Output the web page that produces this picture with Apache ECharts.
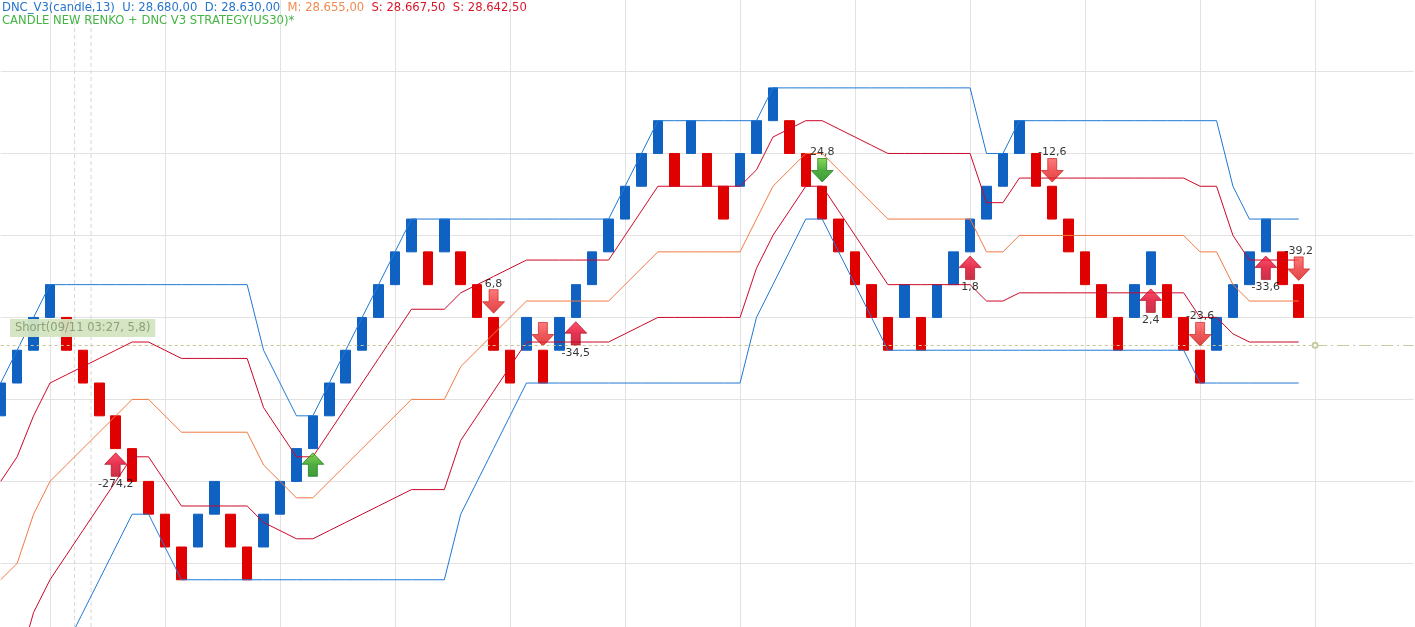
<!DOCTYPE html>
<html>
<head>
<meta charset="utf-8">
<script src="https://cdn.jsdelivr.net/npm/echarts@6/dist/echarts.min.js"></script>
<style>
  html, body { margin: 0; padding: 0; background: #fff; }
  #chart { width: 1415px; height: 627px; }
</style>
</head>
<body>
<div id="chart"></div>
<script>
// renko bricks (brick size 10), one per slot
const brickOpen = [
  28620, 28630, 28640, 28650, 28650, 28640, 28630, 28620, 28610, 28600,
  28590, 28580, 28580, 28590, 28590, 28580, 28580, 28590, 28600, 28610,
  28620, 28630, 28640, 28650, 28660, 28670, 28670, 28670, 28670, 28660,
  28650, 28640, 28640, 28640, 28640, 28650, 28660, 28670, 28680, 28690,
  28700, 28700, 28700, 28700, 28690, 28690, 28700, 28710, 28710, 28700,
  28690, 28680, 28670, 28660, 28650, 28650, 28650, 28650, 28660, 28670,
  28680, 28690, 28700, 28700, 28690, 28680, 28670, 28660, 28650, 28650,
  28660, 28660, 28650, 28640, 28640, 28650, 28660, 28670, 28670, 28660
]
const brickClose = [
  28630, 28640, 28650, 28660, 28640, 28630, 28620, 28610, 28600, 28590,
  28580, 28570, 28590, 28600, 28580, 28570, 28590, 28600, 28610, 28620,
  28630, 28640, 28650, 28660, 28670, 28680, 28660, 28680, 28660, 28650,
  28640, 28630, 28650, 28630, 28650, 28660, 28670, 28680, 28690, 28700,
  28710, 28690, 28710, 28690, 28680, 28700, 28710, 28720, 28700, 28690,
  28680, 28670, 28660, 28650, 28640, 28660, 28640, 28660, 28670, 28680,
  28690, 28700, 28710, 28690, 28680, 28670, 28660, 28650, 28640, 28660,
  28670, 28650, 28640, 28630, 28650, 28660, 28670, 28680, 28660, 28650
]

// DNC_V3 channel lines
const bandUpper = [
  28630, 28640, 28650, 28660, 28660, 28660, 28660, 28660, 28660, 28660,
  28660, 28660, 28660, 28660, 28660, 28660, 28640, 28630, 28620, 28620,
  28630, 28640, 28650, 28660, 28670, 28680, 28680, 28680, 28680, 28680,
  28680, 28680, 28680, 28680, 28680, 28680, 28680, 28680, 28690, 28700,
  28710, 28710, 28710, 28710, 28710, 28710, 28710, 28720, 28720, 28720,
  28720, 28720, 28720, 28720, 28720, 28720, 28720, 28720, 28720, 28720,
  28700, 28700, 28710, 28710, 28710, 28710, 28710, 28710, 28710, 28710,
  28710, 28710, 28710, 28710, 28710, 28690, 28680, 28680, 28680, 28680
]
const signalUpper = [
  28600, 28607.5, 28620, 28630, 28632.5, 28635, 28637.5, 28640, 28642.5, 28642.5,
  28640, 28637.5, 28637.5, 28637.5, 28637.5, 28637.5, 28622.5, 28615, 28607.5, 28607.5,
  28615, 28622.5, 28630, 28637.5, 28645, 28652.5, 28652.5, 28652.5, 28657.5, 28660,
  28662.5, 28665, 28667.5, 28667.5, 28667.5, 28667.5, 28667.5, 28667.5, 28675, 28682.5,
  28690, 28690, 28690, 28690, 28690, 28690, 28695, 28705, 28707.5, 28710,
  28710, 28707.5, 28705, 28702.5, 28700, 28700, 28700, 28700, 28700, 28700,
  28685, 28685, 28692.5, 28692.5, 28692.5, 28692.5, 28692.5, 28692.5, 28692.5, 28692.5,
  28692.5, 28692.5, 28692.5, 28690, 28690, 28675, 28667.5, 28667.5, 28667.5, 28667.5
]
const bandMid = [
  28570, 28575, 28590, 28600, 28605, 28610, 28615, 28620, 28625, 28625,
  28620, 28615, 28615, 28615, 28615, 28615, 28605, 28600, 28595, 28595,
  28600, 28605, 28610, 28615, 28620, 28625, 28625, 28625, 28635, 28640,
  28645, 28650, 28655, 28655, 28655, 28655, 28655, 28655, 28660, 28665,
  28670, 28670, 28670, 28670, 28670, 28670, 28680, 28690, 28695, 28700,
  28700, 28695, 28690, 28685, 28680, 28680, 28680, 28680, 28680, 28680,
  28670, 28670, 28675, 28675, 28675, 28675, 28675, 28675, 28675, 28675,
  28675, 28675, 28675, 28670, 28670, 28660, 28655, 28655, 28655, 28655
]
const signalLower = [
  28540, 28542.5, 28560, 28570, 28577.5, 28585, 28592.5, 28600, 28607.5, 28607.5,
  28600, 28592.5, 28592.5, 28592.5, 28592.5, 28592.5, 28587.5, 28585, 28582.5, 28582.5,
  28585, 28587.5, 28590, 28592.5, 28595, 28597.5, 28597.5, 28597.5, 28612.5, 28620,
  28627.5, 28635, 28642.5, 28642.5, 28642.5, 28642.5, 28642.5, 28642.5, 28645, 28647.5,
  28650, 28650, 28650, 28650, 28650, 28650, 28665, 28675, 28682.5, 28690,
  28690, 28682.5, 28675, 28667.5, 28660, 28660, 28660, 28660, 28660, 28660,
  28655, 28655, 28657.5, 28657.5, 28657.5, 28657.5, 28657.5, 28657.5, 28657.5, 28657.5,
  28657.5, 28657.5, 28657.5, 28650, 28650, 28645, 28642.5, 28642.5, 28642.5, 28642.5
]
const bandLower = [
  28510, 28510, 28530, 28540, 28550, 28560, 28570, 28580, 28590, 28590,
  28580, 28570, 28570, 28570, 28570, 28570, 28570, 28570, 28570, 28570,
  28570, 28570, 28570, 28570, 28570, 28570, 28570, 28570, 28590, 28600,
  28610, 28620, 28630, 28630, 28630, 28630, 28630, 28630, 28630, 28630,
  28630, 28630, 28630, 28630, 28630, 28630, 28650, 28660, 28670, 28680,
  28680, 28670, 28660, 28650, 28640, 28640, 28640, 28640, 28640, 28640,
  28640, 28640, 28640, 28640, 28640, 28640, 28640, 28640, 28640, 28640,
  28640, 28640, 28640, 28630, 28630, 28630, 28630, 28630, 28630, 28630
]

// strategy signals
const signalIndex = [7, 19, 30, 33, 35, 50, 59, 64, 70, 73, 77, 79]
const signalDir   = ['up', 'up', 'down', 'down', 'up', 'down', 'up', 'down', 'up', 'down', 'up', 'down']
const signalGreen = [false, true, false, false, false, true, false, false, false, false, false, false]
const signalText  = ['-274,2', '', '6,8', '', '-34,5', '24,8', '1,8', '-12,6', '2,4', '-23,6', '-33,6', '-39,2']

const slotCount   = 87          // brick slots incl. the empty margin on the right
const lastSlot    = 80          // where the open position line changes style
const priceMin    = 28555.6
const priceMax    = 28746.8
const gridLevels  = [28575, 28600, 28625, 28650, 28675, 28700, 28725]
const tradePrice  = 28641.5     // open short position line
const tradeSlots  = [4.5, 5.5]  // entry marker verticals (between bricks)
const tradeText   = 'Short(09/11 03:27, 5,8)'

const fmt = v => {
  const [a, b] = v.toFixed(2).split('.')
  return a.slice(0, 2) + '.' + a.slice(2) + ',' + b
}
const last = arr => arr[arr.length - 1]

const chart = echarts.init(document.getElementById('chart'), null, { renderer: 'canvas' })

const FONT = 'DejaVu Sans'
const HEAD = 11.6
const slots = Array.from({ length: slotCount }, (_, i) => String(i))
const candles = brickOpen.map((o, i) => {
  const c = brickClose[i]
  return [o, c, Math.min(o, c), Math.max(o, c)]
})

const upPath   = 'path://M11 0 L22 11.5 L15.5 11.5 L15.5 23.5 L6.5 23.5 L6.5 11.5 L0 11.5 Z'
const downPath = 'path://M6.5 0 L15.5 0 L15.5 12 L22 12 L11 23.5 L0 12 L6.5 12 Z'
const grad = stops => new echarts.graphic.LinearGradient(0, 0, 0, 1,
  stops.map((c, k) => ({ offset: k / (stops.length - 1), color: c })))

const arrows = signalIndex.map((idx, k) => {
  const up = signalDir[k] === 'up'
  const lo = Math.min(brickOpen[idx], brickClose[idx])
  const hi = Math.max(brickOpen[idx], brickClose[idx])
  let fill, stroke
  if (signalGreen[k]) { fill = grad(['#6ccf30', '#249a10', '#0a820a']); stroke = '#0a700a' }
  else if (up)        { fill = grad(['#ff2848', '#de0026', '#bc001a']); stroke = '#a80016' }
  else                { fill = grad(['#ff5c5c', '#ec3030', '#d61818']); stroke = '#c41414' }
  return {
    value: [idx, up ? lo : hi],
    symbol: up ? upPath : downPath,
    symbolOffset: [0, up ? 16 : -16],
    itemStyle: { color: fill, borderColor: stroke, borderWidth: 0.8 },
    label: {
      show: signalText[k] !== '',
      formatter: signalText[k],
      position: up ? 'bottom' : 'top',
      distance: up ? 2 : 0
    }
  }
})

const lineSeries = (name, data, color, z) => ({
  type: 'line', name, data, z,
  symbol: 'none', silent: true, animation: false,
  lineStyle: { color, width: 1 }
})

const option = {
  backgroundColor: '#fff',
  animation: false,
  title: [
    {
      left: 2, top: 2, padding: 0,
      text: '{b|DNC_V3(candle,13)  U: ' + fmt(last(bandUpper)) + '  D: ' + fmt(last(bandLower)) + '}  ' +
            '{o|M: ' + fmt(last(bandMid)) + '}  ' +
            '{r|S: ' + fmt(last(signalUpper)) + '  S: ' + fmt(last(signalLower)) + '}',
      textStyle: {
        fontFamily: FONT, fontSize: HEAD, fontWeight: 'normal',
        rich: {
          b: { color: '#2674cc', fontFamily: FONT, fontSize: HEAD },
          o: { color: '#f08a50', fontFamily: FONT, fontSize: HEAD },
          r: { color: '#d8182a', fontFamily: FONT, fontSize: HEAD }
        }
      }
    },
    {
      left: 2, top: 15, padding: 0,
      text: 'CANDLE NEW RENKO + DNC V3 STRATEGY(US30)*',
      textStyle: { fontFamily: FONT, fontSize: HEAD, fontWeight: 'normal', color: '#44b444' }
    }
  ],
  grid: { left: 0.7, right: 1.3, top: 0, bottom: 0 },
  xAxis: {
    type: 'category', data: slots, boundaryGap: false,
    axisLine: { show: false }, axisTick: { show: false }, axisLabel: { show: false },
    splitLine: { show: true, interval: (i) => i % 7 === 3, lineStyle: { color: '#e2e2e2', width: 1 } }
  },
  yAxis: {
    type: 'value', min: priceMin, max: priceMax,
    axisLine: { show: false },
    axisTick: { show: false, customValues: gridLevels },
    axisLabel: { show: false, customValues: gridLevels },
    splitLine: { show: true, lineStyle: { color: '#e2e2e2', width: 1 } }
  },
  graphic: [{
    type: 'text', left: 10, top: 319, z: 100,
    style: {
      text: tradeText, fontFamily: FONT, fontSize: 11.5, fill: '#8aa276',
      backgroundColor: 'rgba(212,229,194,0.95)', padding: [3, 5, 3, 5]
    }
  }],
  series: [
    {
      type: 'custom', name: 'entry', z: 1, silent: true,
      data: tradeSlots.map(s => [s]),
      renderItem: (params, api) => {
        const s = api.value(0)
        const a = api.coord([Math.floor(s), priceMin])[0]
        const b = api.coord([Math.ceil(s), priceMin])[0]
        const x = a + (b - a) * (s - Math.floor(s))
        return {
          type: 'line',
          shape: { x1: x, y1: 0, x2: x, y2: 627 },
          style: { stroke: '#d6d6d6', lineWidth: 1, lineDash: [4, 3] }
        }
      }
    },
    {
      type: 'candlestick', name: 'renko', data: candles, z: 2,
      barWidth: 10, silent: true,
      itemStyle: {
        color: '#1062c2', borderColor: '#1062c2',
        color0: '#e00000', borderColor0: '#e00000', borderWidth: 1
      }
    },
    lineSeries('U', bandUpper, '#1f7ad4', 3),
    lineSeries('S1', signalUpper, '#cc0828', 3),
    lineSeries('M', bandMid, '#f07a44', 3),
    lineSeries('S2', signalLower, '#cc0828', 3),
    Object.assign(lineSeries('D', bandLower, '#1f7ad4', 3), {
      markLine: {
        silent: true, symbol: ['none', 'none'],
        label: { show: false },
        lineStyle: { color: '#cbc596', width: 1, type: [3, 3] },
        data: [
          [{ xAxis: slots[0], yAxis: tradePrice }, { xAxis: slots[lastSlot], yAxis: tradePrice }],
          [
            { xAxis: slots[lastSlot], yAxis: tradePrice, symbol: 'emptyCircle', symbolSize: 5,
              lineStyle: { type: [12, 4, 2, 4], color: '#c4cca0' } },
            { xAxis: slots[slotCount - 1], yAxis: tradePrice }
          ]
        ]
      }
    }),
    {
      type: 'scatter', name: 'signals', z: 4, silent: true,
      symbolSize: [22, 23.5],
      data: arrows,
      label: { color: '#000', fontFamily: FONT, fontSize: 11 }
    }
  ]
}

chart.setOption(option)
</script>
</body>
</html>
